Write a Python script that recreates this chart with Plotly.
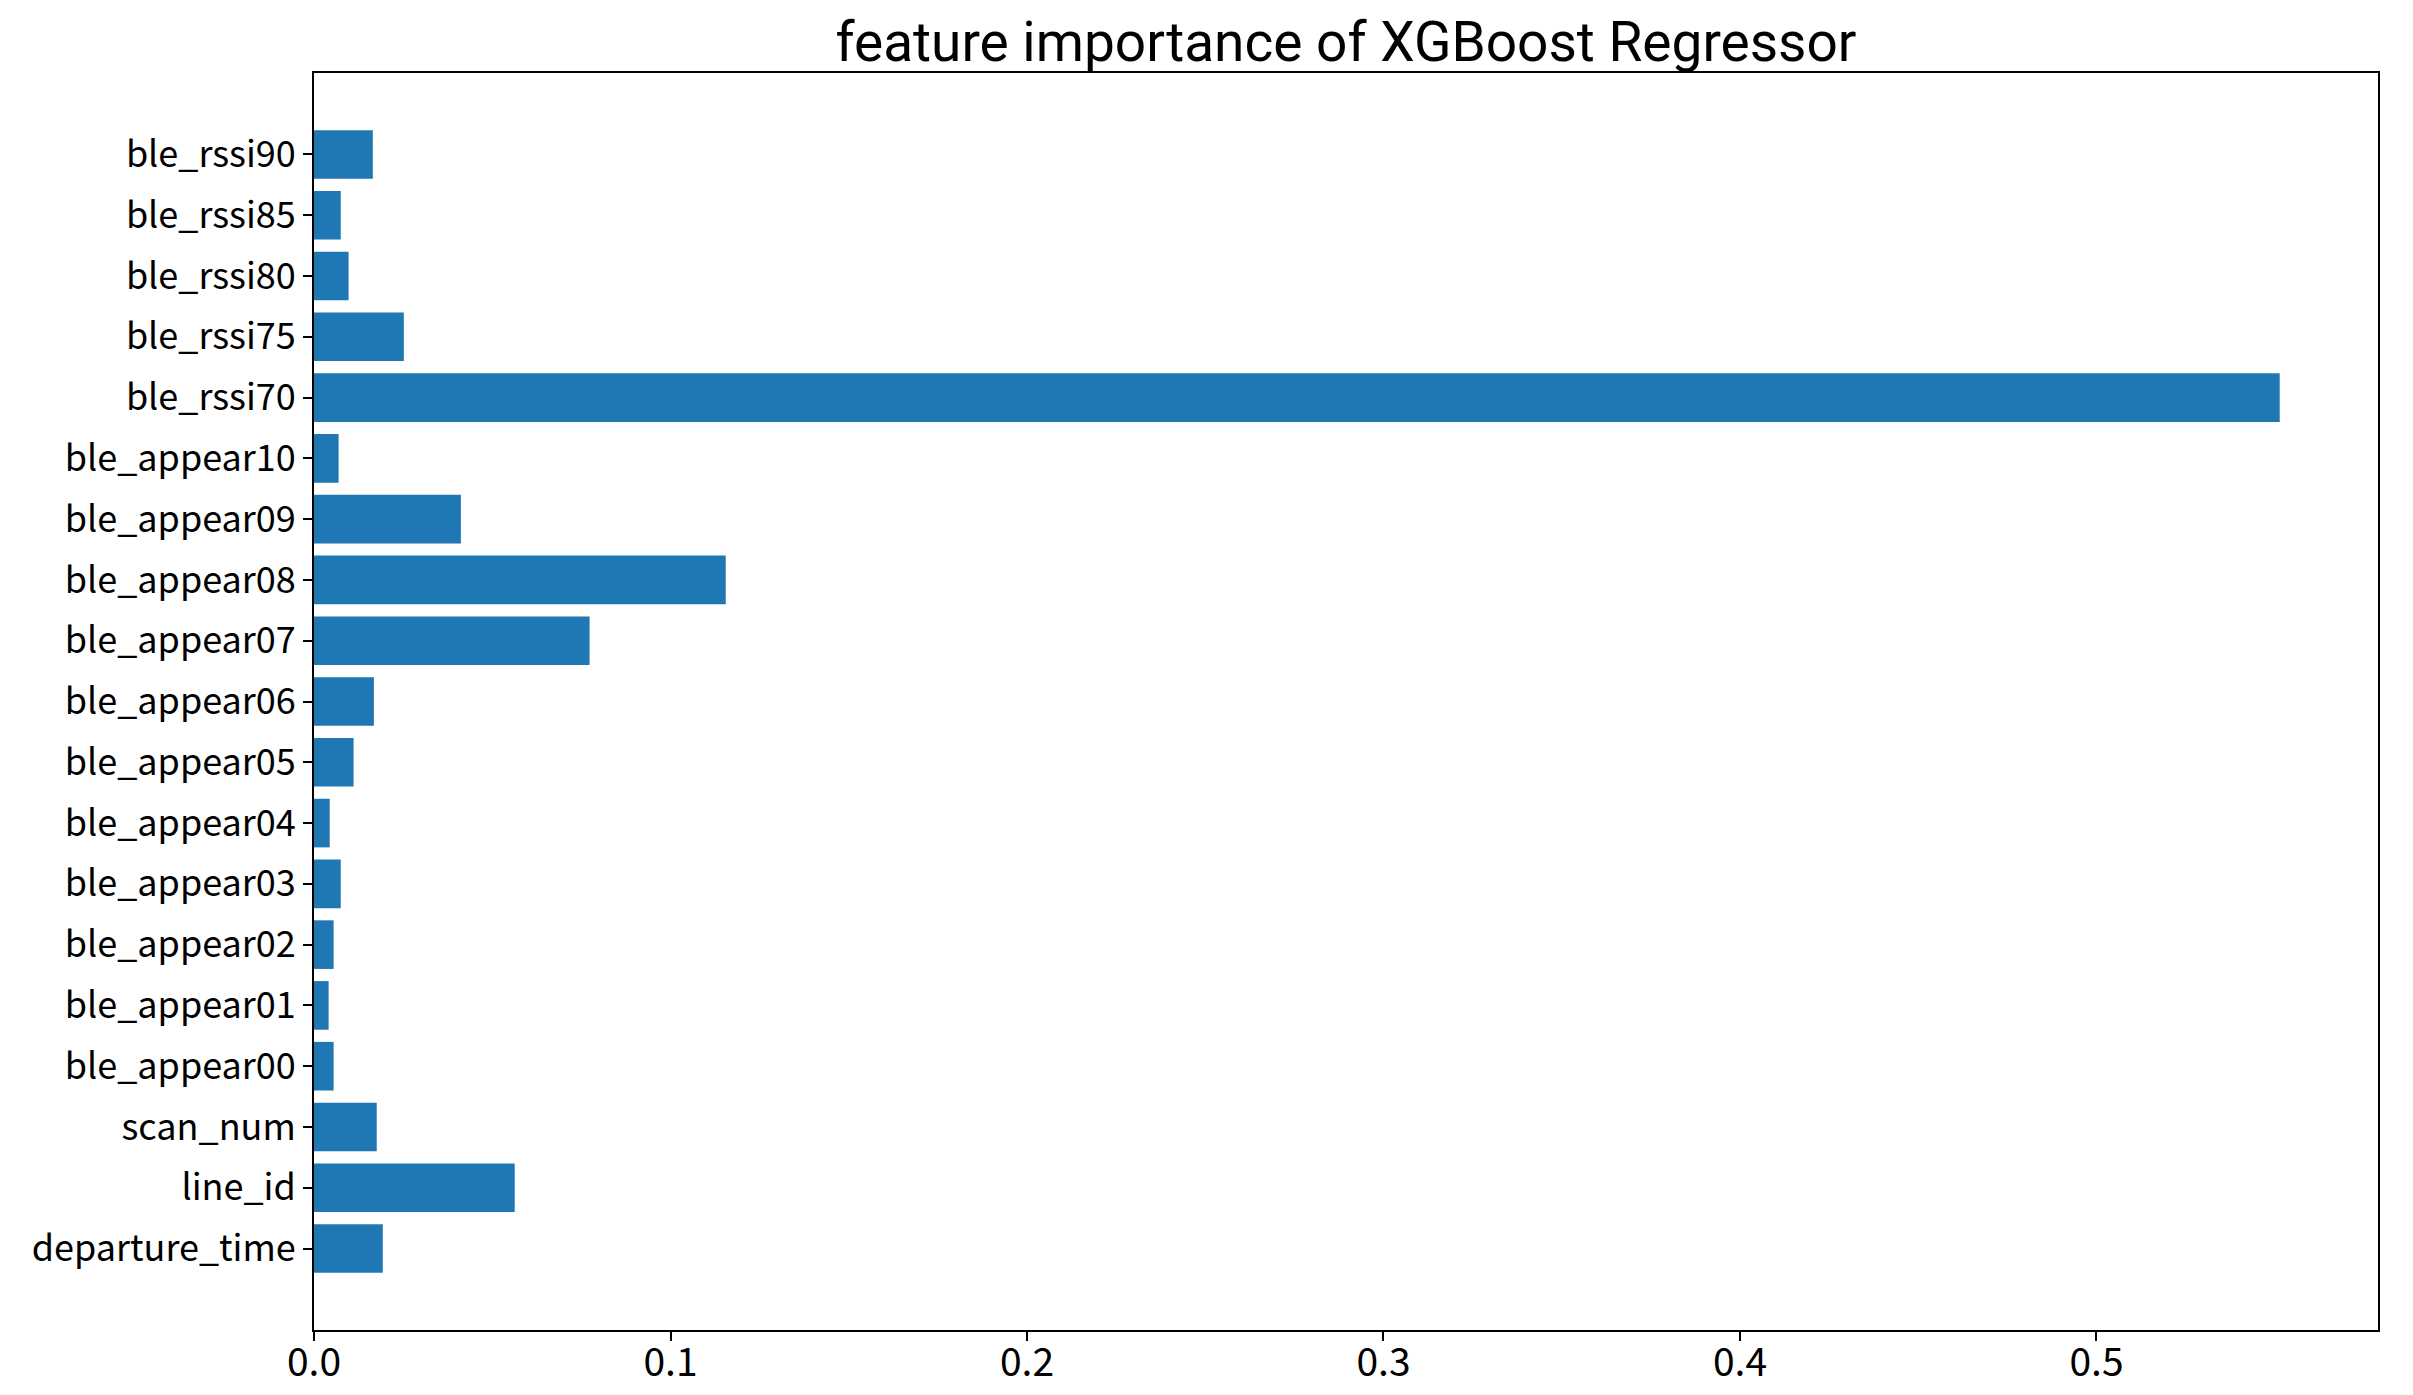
import plotly.graph_objects as go

features = ["departure_time", "line_id", "scan_num",
            "ble_appear00", "ble_appear01", "ble_appear02", "ble_appear03",
            "ble_appear04", "ble_appear05", "ble_appear06", "ble_appear07",
            "ble_appear08", "ble_appear09", "ble_appear10",
            "ble_rssi70", "ble_rssi75", "ble_rssi80", "ble_rssi85", "ble_rssi90"]
importance = [0.0193, 0.0563, 0.0176,
              0.0055, 0.0041, 0.0055, 0.0075,
              0.0044, 0.0111, 0.0168, 0.0773,
              0.1155, 0.0412, 0.0069,
              0.5514, 0.0252, 0.0097, 0.0075, 0.0165]
x_ticks = [0.0, 0.1, 0.2, 0.3, 0.4, 0.5]

positions = list(range(len(features)))
FONT = "Noto Sans CJK JP"
TITLE_FONT = "Roboto"

fig = go.Figure(go.Bar(
    x=importance, y=positions, orientation="h", width=0.8,
    marker=dict(color="#1f77b4", line=dict(width=0)),
))

# page body has an 8px margin: figure drawn at (8, 8) inside the window
OFF = 8
W, H = 2413 - 2 * OFF, 1395 - 2 * OFF
L, R, T, B = 314 - OFF, 2378 - OFF, 73 - OFF, 1330 - OFF

fig.update_layout(
    width=W, height=H,
    margin=dict(l=L, r=W - R, t=T, b=H - B, pad=0),
    paper_bgcolor="white", plot_bgcolor="white",
    showlegend=False,
    title=dict(text="feature importance of XGBoost Regressor",
               font=dict(family=TITLE_FONT, size=55, color="black"),
               x=(L + R) / 2 / W, xanchor="center", xref="container",
               y=1 - 34 / H, yanchor="middle", yref="container"),
    font=dict(family=FONT, color="black"),
)
fig.update_xaxes(
    range=[0, max(importance) * 1.05],
    tickvals=x_ticks, ticktext=[f"{v:.1f}" for v in x_ticks],
    ticks="outside", ticklen=9, tickwidth=2, tickcolor="black",
    showline=True, linecolor="black", linewidth=2, mirror=True,
    showgrid=False, zeroline=False, automargin=False,
    ticklabelstandoff=-12,
    tickfont=dict(family=FONT, size=39, color="black"),
)
fig.update_yaxes(
    range=[-1.34, len(features) - 1 + 1.34],
    tickvals=positions, ticktext=features,
    ticks="outside", ticklen=9, tickwidth=2, tickcolor="black",
    showline=True, linecolor="black", linewidth=2, mirror=True,
    showgrid=False, zeroline=False, automargin=False,
    ticklabelstandoff=0,
    tickfont=dict(family=FONT, size=36, color="black"),
)

fig.write_html("out.html")
